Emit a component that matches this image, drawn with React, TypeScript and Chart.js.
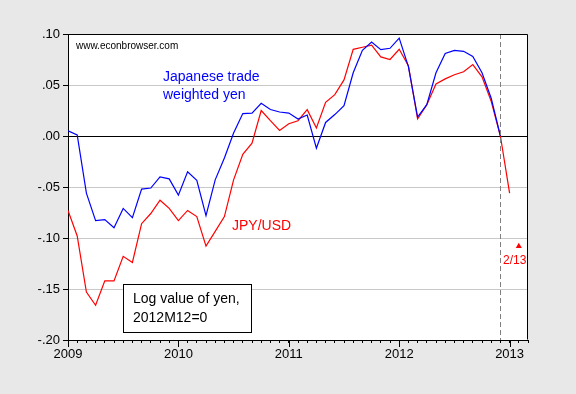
import React, { useEffect, useRef } from 'react';
import { Chart, registerables } from 'chart.js';

Chart.register(...registerables);

// Month index 0 = 2009M01
const yearLabels = ['2009', '2010', '2011', '2012', '2013'];
const monthsPerYear = 12;
const lastMonthIndex = 50;

// Japanese trade weighted yen, log value, 2012M12 = 0 (2009M01 .. 2012M12)
const tradeWeightedYen = [
  0.005, 0.001, -0.056, -0.083, -0.082, -0.09, -0.071, -0.08, -0.052, -0.051, -0.04, -0.042,
  -0.058, -0.035, -0.0435, -0.078, -0.043, -0.0216, 0.003, 0.022, 0.0225, 0.032, 0.026, 0.0235,
  0.0225, 0.0167, 0.0206, -0.012, 0.0133, 0.021, 0.0297, 0.062, 0.084, 0.092, 0.0846, 0.086,
  0.096, 0.068, 0.0186, 0.0307, 0.062, 0.081, 0.084, 0.083, 0.078, 0.062, 0.037, 0.0,
];

// JPY/USD, log value, 2012M12 = 0 (2009M01 .. 2013M01)
const jpyUsd = [
  -0.073, -0.098, -0.153, -0.166, -0.142, -0.142, -0.118, -0.124, -0.086, -0.076, -0.063, -0.071,
  -0.083, -0.073, -0.079, -0.108, -0.0935, -0.079, -0.043, -0.018, -0.007, 0.025, 0.015, 0.0055,
  0.012, 0.015, 0.0258, 0.0078, 0.033, 0.0405, 0.055, 0.085, 0.087, 0.089, 0.0775, 0.075,
  0.085, 0.069, 0.0167, 0.0307, 0.051, 0.056, 0.06, 0.063, 0.07, 0.058, 0.034, 0.0,
  -0.056,
];

// Feb 2013 observation (triangle marker)
const febIndex = [49];
const febValue = [-0.108];

const baseMonthIndex = 47; // 2012M12
const yTickValues = [0.1, 0.05, 0, -0.05, -0.1, -0.15, -0.2];

const FONT = '"Liberation Sans", Arial, Helvetica, sans-serif';

function fmtY(v: number): string {
  const s = Math.abs(v) < 1e-9 ? '0.00' : v.toFixed(2);
  return s.replace('0.', '.');
}

const decorPlugin = {
  id: 'decor',
  beforeDraw(chart: any) {
    const { ctx, chartArea } = chart;
    ctx.save();
    ctx.fillStyle = '#e8e8e8';
    ctx.fillRect(0, 0, chart.width, chart.height);
    ctx.fillStyle = '#ffffff';
    ctx.fillRect(chartArea.left, chartArea.top, chartArea.right - chartArea.left, chartArea.bottom - chartArea.top);
    ctx.restore();
  },
  afterDraw(chart: any) {
    const { ctx, chartArea } = chart;
    const xs = chart.scales.x;
    const { left, right, top, bottom } = chartArea;
    ctx.save();
    // dashed reference line at 2012M12
    const xd = Math.round(xs.getPixelForValue(baseMonthIndex)) + 0.5;
    ctx.strokeStyle = '#808080';
    ctx.lineWidth = 1;
    ctx.setLineDash([5, 3]);
    ctx.beginPath();
    ctx.moveTo(xd, top);
    ctx.lineTo(xd, bottom);
    ctx.stroke();
    ctx.setLineDash([]);
    // frame
    ctx.strokeStyle = '#000';
    ctx.beginPath();
    ctx.moveTo(left + 0.5, top + 0.5);
    ctx.lineTo(right - 0.5, top + 0.5);
    ctx.lineTo(right - 0.5, bottom - 0.5);
    ctx.stroke();
    // major year ticks
    for (let k = 0; k < yearLabels.length; k++) {
      const xp = Math.round(xs.getPixelForValue(k * monthsPerYear)) + 0.5;
      ctx.beginPath();
      ctx.moveTo(xp, bottom);
      ctx.lineTo(xp, bottom + 7);
      ctx.stroke();
    }
    // texts
    ctx.textBaseline = 'alphabetic';
    ctx.textAlign = 'left';
    ctx.fillStyle = '#000';
    ctx.font = `10px ${FONT}`;
    ctx.fillText('www.econbrowser.com', left + 8, top + 15);
    ctx.font = `14px ${FONT}`;
    ctx.fillStyle = '#0000ff';
    ctx.fillText('Japanese trade', 163, 81);
    ctx.fillText('weighted yen', 163, 98.5);
    ctx.fillStyle = '#ff0000';
    ctx.fillText('JPY/USD', 232, 230);
    ctx.font = `12px ${FONT}`;
    ctx.fillText('2/13', 503, 264);
    // box
    ctx.fillStyle = '#ffffff';
    ctx.fillRect(123.5, 284.5, 128, 48);
    ctx.strokeStyle = '#000';
    ctx.strokeRect(123.5, 284.5, 128, 48);
    ctx.fillStyle = '#000';
    ctx.font = `14px ${FONT}`;
    ctx.fillText('Log value of yen,', 133, 303);
    ctx.fillText('2012M12=0', 133, 321.5);
    ctx.restore();
  },
};

export default function App() {
  const ref = useRef<HTMLCanvasElement | null>(null);
  useEffect(() => {
    document.body.style.margin = '0';
    document.body.style.overflow = 'hidden';
    const canvas = ref.current;
    if (!canvas) return;
    const chart = new Chart(canvas, {
      type: 'line',
      data: {
        datasets: [
          {
            label: 'Japanese trade weighted yen',
            data: tradeWeightedYen.map((v, i) => ({ x: i, y: v })),
            borderColor: '#0000ff',
            borderWidth: 1.2,
            pointRadius: 0,
            tension: 0,
          },
          {
            label: 'JPY/USD',
            data: jpyUsd.map((v, i) => ({ x: i, y: v })),
            borderColor: '#ff0000',
            borderWidth: 1.2,
            pointRadius: 0,
            tension: 0,
          },
          {
            label: '2/13',
            data: febIndex.map((x, i) => ({ x, y: febValue[i] })),
            showLine: false,
            pointStyle: 'triangle',
            pointRadius: 3.5,
            backgroundColor: '#ff0000',
            borderColor: '#ff0000',
            borderWidth: 0,
          },
        ],
      },
      options: {
        animation: false,
        responsive: false,
        devicePixelRatio: 1,
        layout: { padding: { top: 34, right: 48, left: 0, bottom: 0 } },
        plugins: { legend: { display: false }, tooltip: { enabled: false } },
        scales: {
          x: {
            type: 'linear',
            min: 0,
            max: lastMonthIndex,
            afterBuildTicks: (scale: any) => {
              const t: any[] = [];
              for (let i = 0; i <= lastMonthIndex; i++) t.push({ value: i });
              scale.ticks = t;
            },
            afterFit: (scale: any) => {
              scale.height = 54;
            },
            ticks: {
              autoSkip: false,
              maxRotation: 0,
              padding: 4,
              color: '#000',
              font: { family: FONT, size: 13 },
              callback: (v: any) => (Number(v) % monthsPerYear === 0 ? yearLabels[Number(v) / monthsPerYear] ?? '' : ''),
            },
            grid: {
              drawOnChartArea: false,
              drawTicks: true,
              tickLength: 3,
              tickColor: '#000',
              color: '#000',
            },
            border: { display: true, color: '#000' },
          },
          y: {
            type: 'linear',
            min: -0.2,
            max: 0.1,
            afterBuildTicks: (scale: any) => {
              scale.ticks = yTickValues.map((v) => ({ value: v }));
            },
            afterFit: (scale: any) => {
              scale.width = 68;
            },
            ticks: {
              padding: 3,
              color: '#000',
              font: { family: FONT, size: 13 },
              callback: (v: any) => fmtY(Number(v)),
            },
            grid: {
              drawTicks: true,
              tickLength: 5,
              tickColor: '#000',
              color: (c: any) => (c.tick && Math.abs(c.tick.value) < 1e-9 ? '#000' : '#c8c8c8'),
            },
            border: { display: true, color: '#000' },
          },
        },
      },
      plugins: [decorPlugin],
    } as any);
    return () => chart.destroy();
  }, []);
  return <canvas ref={ref} width={576} height={394} style={{ display: 'block' }} />;
}
